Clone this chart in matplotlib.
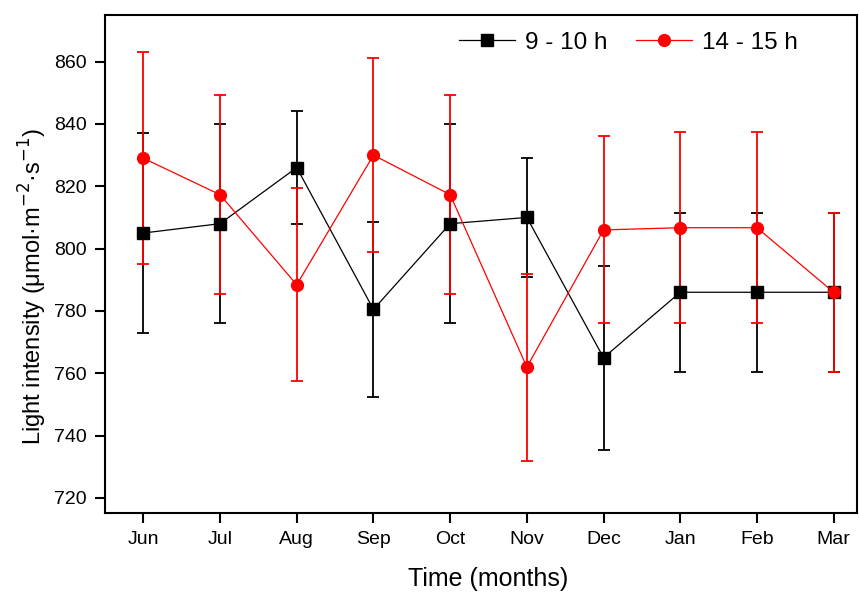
import numpy as np
import matplotlib
matplotlib.use("Agg")
import matplotlib.pyplot as plt

plt.rcParams['font.family'] = ['Liberation Sans', 'DejaVu Sans']

months = ['Jun', 'Jul', 'Aug', 'Sep', 'Oct', 'Nov', 'Dec', 'Jan', 'Feb', 'Mar']
# 9 - 10 h
morning = [805, 808, 826, 780.5, 808, 810, 765, 786, 786, 786]
morning_err = [32, 32, 18, 28, 32, 19, 29.5, 25.5, 25.5, 25.5]
# 14 - 15 h
afternoon = [829, 817.3, 788.4, 830, 817.3, 762, 806, 806.7, 806.7, 786]
afternoon_err = [34, 32, 31, 31, 32, 30, 30, 30.7, 30.7, 25.5]

x = np.arange(1, len(months) + 1)

fig = plt.figure(figsize=(8.59, 5.93), dpi=100)
ax = fig.add_axes([0.1222, 0.135, 0.876, 0.84])

ax.errorbar(x, morning, yerr=morning_err, color='black', marker='s', markersize=8,
            linewidth=0.9, elinewidth=1.3, capsize=4.5, capthick=1.3, label='9 - 10 h')
ax.errorbar(x, afternoon, yerr=afternoon_err, color='#ff0000', marker='o', markersize=8.5,
            linewidth=0.9, elinewidth=1.3, capsize=4.5, capthick=1.3, label='14 - 15 h')

ax.set_xlim(0.5, 10.31)
ax.set_ylim(715.2, 875)
ax.set_xticks(x)
ax.set_xticklabels(months)
ax.set_yticks(np.arange(720, 861, 20))

for s in ax.spines.values():
    s.set_linewidth(1.5)
ax.tick_params(direction='out', length=7, width=1.5, labelsize=14, pad=6)

ax.set_xlabel('Time (months)', fontsize=18, labelpad=14)
ax.set_ylabel('Light intensity (μmol·m$^{-2}$·s$^{-1}$)', fontsize=17, labelpad=4)
ax.xaxis.label.set_x(0.509)
ax.yaxis.label.set_y(0.454)

handles, labels = ax.get_legend_handles_labels()
handles = [h[0] for h in handles]
ax.legend(handles, labels, loc='upper right', ncol=2, frameon=False, fontsize=17.5,
          handlelength=2.3, columnspacing=1.2, handletextpad=0.4,
          bbox_to_anchor=(0.95, 1.01))

fig.savefig('out.png', dpi=100)
